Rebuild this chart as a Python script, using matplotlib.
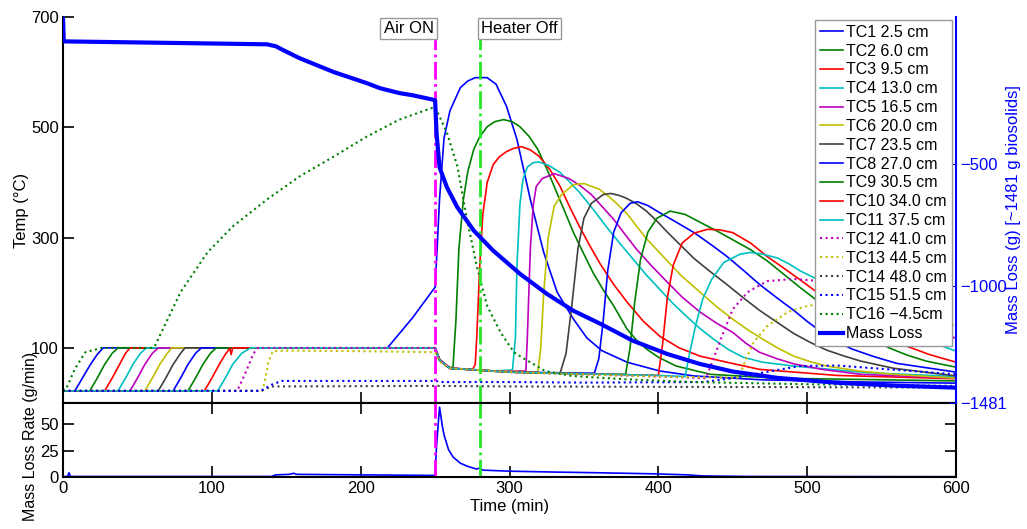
import matplotlib
matplotlib.use("Agg")
import matplotlib.pyplot as plt
import numpy as np

plt.rcParams['font.family'] = ['Liberation Sans', 'DejaVu Sans']
plt.rcParams['font.size'] = 12

# event times (min)
air_on_time = 250
heater_off_time = 280

# thermocouple readings: (time min, temp C)
tc1 = [(0, 22), (8, 22), (13, 45), (18, 68), (23, 88), (27, 100), (218, 100), (235, 155), (250, 210),
       (251, 260), (253, 370), (256, 480), (260, 530), (267, 572), (272, 584), (277, 590), (285, 590),
       (291, 578), (298, 538), (305, 478), (314, 369), (323, 273), (332, 201), (343, 152), (352, 118),
       (362, 95), (379, 74), (401, 58), (424, 49), (470, 42), (540, 38), (600, 36)]
tc2 = [(0, 22), (18, 22), (23, 45), (28, 70), (33, 90), (37, 100), (250, 100), (253, 80), (258, 66),
       (262, 64), (264, 150), (266, 280), (269, 369), (272, 420), (276, 460), (280, 483), (285, 501),
       (290, 510), (296, 514), (302, 510), (307, 501), (313, 484), (319, 460), (325, 425), (330, 393),
       (337, 348), (343, 309), (350, 270), (356, 237), (363, 205), (370, 176), (379, 134), (385, 115),
       (392, 98), (400, 83), (412, 67), (435, 52), (480, 45), (600, 40)]
tc3 = [(0, 22), (28, 22), (33, 45), (38, 70), (42, 90), (45, 100), (250, 100), (253, 78), (260, 64),
       (275, 60), (277, 70), (278, 120), (280, 248), (282, 340), (285, 400), (289, 432), (293, 446),
       (298, 456), (303, 462), (308, 465), (314, 459), (320, 447), (327, 424), (334, 393), (340, 358),
       (347, 320), (354, 285), (361, 252), (370, 215), (379, 183), (390, 148), (401, 121), (414, 100),
       (428, 85), (446, 74), (468, 61), (520, 50), (600, 44)]
tc4 = [(0, 22), (37, 22), (42, 45), (47, 70), (52, 90), (56, 100), (250, 100), (253, 78), (260, 63),
       (290, 58), (302, 60), (304, 120), (305, 248), (307, 360), (309, 405), (312, 428), (316, 436),
       (320, 437), (327, 430), (334, 418), (340, 402), (347, 382), (356, 352), (365, 320), (374, 290),
       (383, 261), (392, 232), (401, 206), (410, 180), (419, 157), (428, 135), (437, 116), (447, 97),
       (457, 83), (470, 74), (491, 67), (540, 55), (600, 48)]
tc5 = [(0, 22), (45, 22), (50, 45), (55, 70), (60, 90), (64, 100), (250, 100), (253, 78), (260, 63),
       (290, 58), (311, 58), (312, 120), (314, 280), (316, 360), (318, 393), (322, 407), (330, 416),
       (340, 407), (347, 395), (355, 378), (362, 357), (370, 333), (377, 308), (385, 280), (395, 250),
       (405, 222), (416, 192), (428, 165), (439, 145), (450, 128), (459, 108), (468, 92), (480, 80),
       (491, 71), (510, 61), (536, 52), (600, 45)]
tc6 = [(0, 22), (55, 22), (60, 45), (65, 70), (70, 90), (73, 100), (250, 100), (253, 78), (260, 63),
       (290, 58), (319, 56), (321, 100), (323, 200), (326, 300), (330, 357), (335, 378), (343, 396),
       (350, 398), (360, 388), (366, 376), (372, 362), (379, 343), (385, 322), (392, 298), (400, 275),
       (408, 252), (415, 232), (428, 201), (439, 175), (450, 152), (460, 133), (470, 116), (480, 100),
       (491, 85), (502, 75), (513, 67), (535, 58), (558, 52), (600, 45)]
tc7 = [(0, 22), (64, 22), (69, 45), (74, 70), (79, 90), (82, 100), (250, 100), (253, 78), (260, 63),
       (300, 56), (334, 54), (338, 90), (342, 180), (346, 280), (350, 335), (355, 362), (363, 378),
       (368, 380), (373, 377), (378, 372), (385, 362), (392, 348), (399, 330), (406, 310), (415, 286),
       (424, 262), (435, 238), (446, 215), (457, 191), (468, 168), (480, 146), (491, 126), (502, 110),
       (513, 96), (525, 85), (536, 76), (558, 63), (600, 49)]
tc8 = [(0, 22), (74, 22), (79, 45), (84, 70), (89, 90), (93, 100), (250, 100), (253, 78), (260, 63),
       (300, 56), (357, 54), (360, 80), (363, 150), (366, 240), (370, 310), (375, 345), (381, 362),
       (386, 365), (393, 358), (401, 345), (412, 328), (424, 309), (435, 288), (446, 266), (457, 241),
       (468, 215), (480, 190), (491, 168), (500, 148), (509, 130), (519, 113), (530, 98), (545, 84),
       (560, 72), (600, 56)]
tc9 = [(0, 22), (84, 22), (89, 45), (94, 70), (99, 90), (103, 100), (250, 100), (253, 78), (260, 63),
       (300, 56), (350, 53), (378, 52), (381, 100), (384, 180), (388, 260), (393, 310), (399, 335),
       (408, 348), (418, 342), (430, 325), (440, 311), (450, 296), (462, 278), (473, 258), (484, 234),
       (495, 210), (507, 185), (518, 162), (530, 140), (542, 119), (555, 100), (567, 87), (580, 76),
       (600, 65)]
tc10 = [(0, 22), (95, 22), (100, 45), (105, 70), (109, 88), (111, 95), (112, 100), (113, 88), (114, 100),
        (250, 100), (253, 78), (260, 63), (300, 56), (350, 53), (400, 50), (403, 110), (406, 190),
        (410, 250), (416, 290), (424, 308), (433, 315), (441, 314), (450, 309), (462, 290), (473, 266),
        (484, 245), (495, 224), (505, 204), (515, 185), (528, 162), (540, 140), (552, 122), (565, 105),
        (582, 88), (600, 74)]
tc11 = [(0, 22), (104, 22), (109, 45), (114, 70), (120, 90), (126, 100), (250, 100), (253, 78), (260, 63),
        (300, 56), (350, 53), (400, 50), (418, 48), (421, 90), (425, 140), (430, 190), (436, 225),
        (444, 255), (455, 270), (462, 273), (470, 270), (480, 263), (488, 252), (495, 240), (507, 224),
        (518, 207), (530, 190), (542, 170), (555, 150), (565, 135), (575, 120), (588, 106), (600, 94)]
tc12 = [(0, 22), (117, 22), (121, 45), (125, 70), (128, 90), (131, 100), (250, 100), (253, 78), (260, 63),
        (300, 56), (350, 52), (400, 48), (432, 45), (437, 80), (442, 116), (450, 170), (460, 201),
        (473, 221), (491, 225), (509, 221), (530, 210), (555, 185), (580, 150), (600, 116)]
tc13 = [(0, 22), (134, 22), (136, 45), (138, 75), (141, 94), (150, 95), (200, 94), (250, 92), (253, 75),
        (260, 63), (300, 56), (350, 52), (400, 48), (454, 46), (459, 80), (464, 110), (473, 139),
        (487, 165), (500, 176), (512, 180), (530, 178), (555, 170), (580, 155), (600, 140)]
tc14 = [(0, 22), (133, 22), (140, 30), (250, 31), (300, 30), (450, 29), (600, 28)]
tc15 = [(0, 22), (133, 22), (140, 33), (147, 40), (250, 40), (255, 38), (300, 38), (350, 37), (430, 38),
        (450, 45), (470, 55), (495, 67), (520, 68), (540, 64), (570, 58), (600, 52)]
tc16 = [(0, 22), (2, 25), (8, 62), (15, 92), (26, 100), (60, 100), (62, 105), (70, 150), (79, 201),
        (97, 273), (114, 320), (137, 369), (159, 411), (182, 447), (204, 483), (226, 514), (250, 537),
        (258, 490), (265, 429), (271, 339), (278, 248), (285, 176), (294, 128), (303, 92), (310, 80),
        (324, 58), (342, 49), (378, 43), (423, 38), (500, 34), (600, 31)]

tc_labels = ['TC1 2.5 cm', 'TC2 6.0 cm', 'TC3 9.5 cm', 'TC4 13.0 cm', 'TC5 16.5 cm', 'TC6 20.0 cm',
             'TC7 23.5 cm', 'TC8 27.0 cm', 'TC9 30.5 cm', 'TC10 34.0 cm', 'TC11 37.5 cm',
             'TC12 41.0 cm', 'TC13 44.5 cm', 'TC14 48.0 cm', 'TC15 51.5 cm', 'TC16 \u22124.5cm']

# mass loss (g) and mass loss rate (g/min)
mass_loss = [(0, 102), (0.5, 2), (70, -4), (137, -10), (143, -18), (148, -34), (159, -67), (182, -124),
             (204, -169), (213, -190), (226, -210), (235, -219), (250, -239), (251, -375), (253, -515),
             (258, -597), (265, -679), (276, -774), (289, -856), (307, -951), (325, -1033), (343, -1103),
             (361, -1156), (383, -1226), (406, -1280), (428, -1321), (450, -1352), (480, -1378),
             (520, -1398), (560, -1410), (600, -1418)]
loss_rate = [(0, 0.5), (3, 0.5), (4, 4), (5, 0.5), (140, 0.5), (143, 2), (152, 2.5), (155, 3.5),
             (157, 2.5), (200, 2), (249, 1.5), (250, 2), (251, 30), (253, 66), (255, 47), (256, 40),
             (259, 26), (262, 19), (267, 13), (272, 10), (278, 7.5), (280, 8.5), (282, 6.5), (300, 5.5),
             (329, 4.7), (360, 4), (397, 3), (420, 2), (430, 1), (460, 0.5), (600, 0.3)]

# old matlab colour order
colors = [(0, 0, 1), (0, 0.5, 0), (1, 0, 0), (0, 0.75, 0.75), (0.75, 0, 0.75),
          (0.75, 0.75, 0), (0.25, 0.25, 0.25)]

fig = plt.figure(figsize=(10.27, 5.29), dpi=100)
W, H = 1027, 529
ax1 = fig.add_axes([63 / W, 1 - 403 / H, (956 - 63) / W, (403 - 17) / H])
ax3 = fig.add_axes([63 / W, 1 - 477 / H, (956 - 63) / W, (477 - 403) / H])

handles = []
all_tc = [tc1, tc2, tc3, tc4, tc5, tc6, tc7, tc8, tc9, tc10, tc11, tc12, tc13, tc14, tc15, tc16]
for i, tc in enumerate(all_tc):
    arr = np.array(tc)
    ls = '-' if i < 11 else ':'
    h, = ax1.plot(arr[:, 0], arr[:, 1], color=colors[i % 7], lw=1.2 if i < 11 else 1.5,
                  ls=ls, label=tc_labels[i])
    handles.append(h)

ax1.set_xlim(0, 600)
ax1.set_ylim(0, 700)
ax1.set_yticks([100, 300, 500, 700])
ax1.set_xticks([100, 200, 300, 400, 500])
ax1.tick_params(axis='x', direction='in', length=8, width=1.2, labelbottom=False)
ax1.tick_params(axis='y', direction='in', length=8, width=1.2, pad=3)
ax1.spines['top'].set_visible(False)
ax1.spines['right'].set_visible(False)
for s in ['left', 'bottom']:
    ax1.spines[s].set_linewidth(1.5)
ax1.patch.set_alpha(0)

ax1.axvline(air_on_time, ymax=0.946, color=(1, 0, 1), ls='-.', lw=2)
ax1.axvline(heater_off_time, ymax=0.946, color=(0.15, 0.9, 0.15), ls='-.', lw=2)

# mass loss on right axis
ax2 = ax1.twinx()
ml = np.array(mass_loss)
hm, = ax2.plot(ml[:, 0], ml[:, 1], color='blue', lw=3, label='Mass Loss')
handles.append(hm)
ax2.set_ylim(-1481, 102)
ax2.set_yticks([-500, -1000, -1481])
ax2.set_yticklabels(['\u2212500', '\u22121000', '\u22121481'])
ax2.tick_params(axis='y', direction='in', length=5, colors='blue', labelcolor='blue', pad=3)
for s in ['top', 'left', 'bottom']:
    ax2.spines[s].set_visible(False)
ax2.spines['right'].set_color('blue')
ax2.spines['right'].set_linewidth(1.5)

ta = ax1.get_xaxis_transform()
box = dict(boxstyle='square,pad=0.2', facecolor='white', edgecolor='0.6', lw=1)
ax2.text(air_on_time - 1, 0.99, 'Air ON', transform=ta, ha='right', va='top', bbox=box, zorder=5)
ax2.text(heater_off_time + 1, 0.99, 'Heater Off', transform=ta, ha='left', va='top', bbox=box, zorder=5)

leg = ax2.legend(handles=handles, loc='upper right', bbox_to_anchor=(952 / W, 1 - 20 / H),
                 bbox_transform=fig.transFigure, fontsize=11.5, labelspacing=0.24, handlelength=1.45,
                 handletextpad=0.2, borderpad=0.3, borderaxespad=0, fancybox=False, framealpha=1)
leg.get_frame().set_edgecolor('0.6')
leg.get_frame().set_linewidth(1)

# mass loss rate
lr = np.array(loss_rate)
ax3.plot(lr[:, 0], lr[:, 1], color='blue', lw=1.2)
ax3.axvline(air_on_time, color=(1, 0, 1), ls='-.', lw=2)
ax3.axvline(heater_off_time, color=(0.15, 0.9, 0.15), ls='-.', lw=2)
ax3.set_xlim(0, 600)
ax3.set_ylim(0, 70)
ax3.set_yticks([0, 25, 50])
ax3.set_xticks([0, 100, 200, 300, 400, 500, 600])
ax3.tick_params(direction='in', length=8, width=1.2, top=True, right=True, pad=3)
for s in ax3.spines.values():
    s.set_linewidth(1.5)

fig.text(22 / W, 1 - 210 / H, 'Temp (\u00b0C)', rotation=90, ha='center', va='center')
fig.text(31 / W, 1 - 436 / H, 'Mass Loss Rate (g/min)', rotation=90, ha='center', va='center',
         fontsize=11.5)
fig.text(510 / W, 1 - 506 / H, 'Time (min)', ha='center', va='center')
fig.text(1013 / W, 1 - 210 / H, 'Mass Loss (g) [~1481 g biosolids]', rotation=90, ha='center',
         va='center', color='blue')

fig.savefig('out.png', dpi=100)
